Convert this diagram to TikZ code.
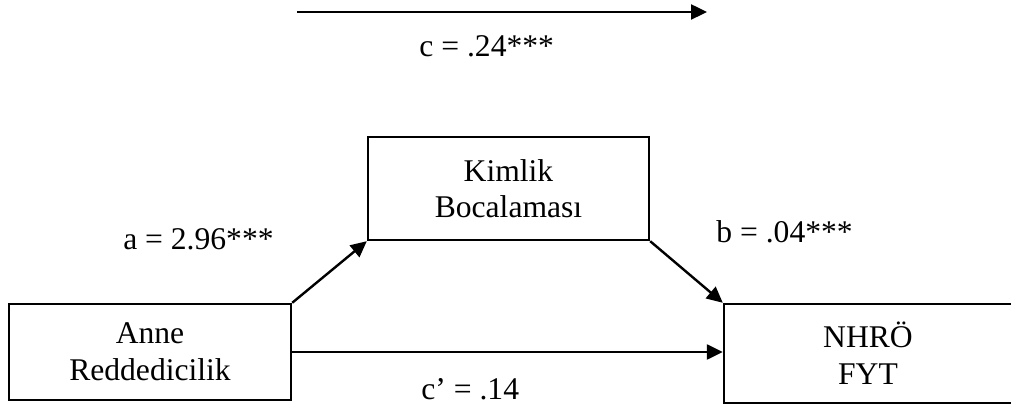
\documentclass[tikz,border=0pt]{standalone}
\usepackage{fontspec}
\setmainfont{Liberation Serif}
\usetikzlibrary{arrows.meta}
\begin{document}
\begin{tikzpicture}[x=0.5pt,y=-0.5pt,
  box/.style={draw=black,line width=1.2pt,inner sep=0pt,align=center,
    font=\fontsize{15.8}{18.3}\selectfont},
  lbl/.style={inner sep=0pt,font=\fontsize{15.8}{18.3}\selectfont},
  conn/.style={draw=black,line width=1.2pt,-{Triangle[length=8pt,width=7.5pt]}}]
\useasboundingbox (0,0) rectangle (1011,410);
\clip (0,0) rectangle (1011,410);
\node[box,minimum width=141pt,minimum height=48pt] (anne) at (150,352) {Anne\\Reddedicilik};
\node[box,minimum width=140.5pt,minimum height=51.5pt] (kimlik) at (508.5,188.5) {Kimlik\\Bocalaması};
\node[box,minimum width=144pt,minimum height=49.5pt] (nhro) at (868,353.5) {NHRÖ\\FYT};
\coordinate (ts) at (297,12);
\coordinate (te) at (707,12);
\draw[conn] (ts) -- (te);
\draw[conn] (anne.north east) -- (kimlik.south west);
\draw[conn] (kimlik.south east) -- (nhro.north west);
\draw[conn] (anne.east) -- (anne.east -| nhro.west);
\node[lbl,anchor=base west] (lc) at (419,57) {c = .24***};
\node[lbl,anchor=base east] (la) at (274,250) {a = 2.96***};
\node[lbl,anchor=base west] (lb) at (716,243) {b = .04***};
\node[lbl,anchor=base west] (lcp) at (421,400) {c’ = .14};
\end{tikzpicture}
\end{document}
